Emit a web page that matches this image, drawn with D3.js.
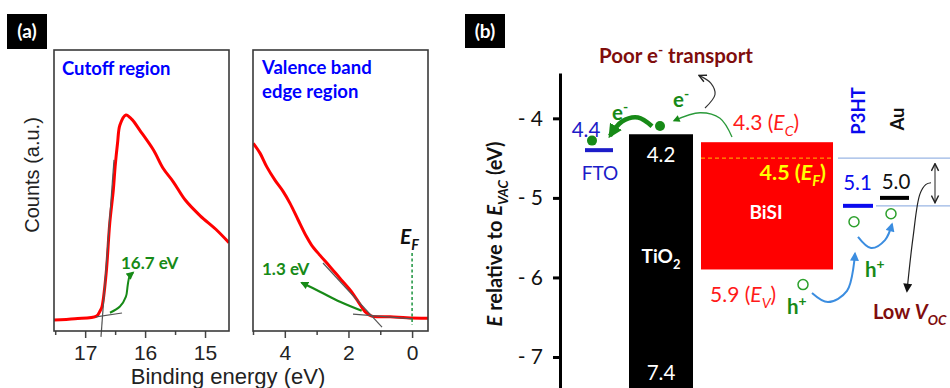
<!DOCTYPE html>
<html><head><meta charset="utf-8">
<script src="https://cdn.jsdelivr.net/npm/d3@7"></script>
<style>body{margin:0;background:#fff}svg{display:block}</style>
</head><body>
<svg id="c" width="950" height="388"></svg>
<script>
// ================= DATA =================
// Panel (a), left: secondary-electron cutoff spectrum (binding energy eV, counts a.u.)
const cutoffEnergy = [17.52, 17.17, 16.81, 16.75, 16.72, 16.65, 16.59, 16.53, 16.50, 16.46, 16.42, 16.32, 16.22, 16.09, 15.86, 15.70, 15.53, 15.33, 15.08, 14.82, 14.60];
const cutoffCounts = [0.039, 0.044, 0.053, 0.072, 0.086, 0.205, 0.383, 0.502, 0.585, 0.668, 0.733, 0.769, 0.753, 0.715, 0.644, 0.579, 0.531, 0.466, 0.410, 0.362, 0.314];
// Panel (a), right: valence band edge spectrum
const vbEnergy = [4.99, 4.78, 4.57, 4.31, 4.05, 3.84, 3.58, 3.32, 3.16, 2.90, 2.58, 2.27, 1.95, 1.69, 1.48, 1.27, 0.69, 0.17, -0.51];
const vbCounts = [0.668, 0.633, 0.585, 0.537, 0.496, 0.455, 0.395, 0.336, 0.306, 0.270, 0.229, 0.188, 0.146, 0.104, 0.069, 0.053, 0.051, 0.047, 0.045];
// tangent (extrapolation) lines [eV, counts]
const cutoffTangents = [[[16.736, -0.021], [16.519, 0.609]], [[16.82, 0.050], [16.385, 0.064]]];
const vbTangents = [[[2.80, 0.242], [0.946, 0.014]], [[1.857, 0.060], [-0.03, 0.043]]];
const cutoffValue = "16.7 eV";
const vbmValue = "1.3 eV";
const fermiLevelA = 0;
const ticksLeftMajor = [17, 16, 15];
const ticksLeftMinor = [17.5, 16.5, 15.5];
const ticksRightMajor = [4, 2, 0];
const ticksRightMinor = [5, 3, 1];

// Panel (b): energy levels (eV below vacuum)
const bandNames = ["TiO2", "BiSI"];
const bandCB = [4.2, 4.3];
const bandVB = [7.4, 5.9];
const bisiFermi = 4.5;
const levelNames = ["FTO", "P3HT", "Au"];
const levelE = [4.4, 5.1, 5.0];
const ticksB = [4, 5, 6, 7];

// ================= DRAW =================
const svg = d3.select('#c');
const FA = "'Liberation Sans', Arial, sans-serif";
const FC = "Lato, 'Open Sans', sans-serif";
const GREEN = "#178a17", BLUE = "#0000ff", DRED = "#7f0d0d";

const defs = svg.append('defs');
function marker(id, color, len, wid, open) {
  const m = defs.append('marker').attr('id', id).attr('viewBox', '0 0 10 10')
    .attr('refX', open ? 9 : 8).attr('refY', 5).attr('markerWidth', len).attr('markerHeight', wid)
    .attr('markerUnits', 'userSpaceOnUse').attr('orient', 'auto-start-reverse');
  if (open) m.append('path').attr('d', 'M1,1L9,5L1,9').attr('fill', 'none').attr('stroke', color).attr('stroke-width', 1.6);
  else m.append('path').attr('d', 'M0,0L10,5L0,10Z').attr('fill', color);
}
marker('gThick', GREEN, 14, 15, false);
marker('gThin', GREEN, 8, 7, false);
marker('gA', GREEN, 9, 8, false);
marker('kOpen', '#222', 9, 9, true);
marker('kFill', '#111', 11, 9, false);
marker('bFill', '#3b8de0', 10, 9, false);

function rich(g, x, y, parts, size, attrs) {
  const t = g.append('text').attr('x', x).attr('y', y).attr('font-size', size);
  Object.entries(attrs || {}).forEach(([k, v]) => t.attr(k, v));
  let cur = 0;
  parts.forEach(p => {
    const off = p.sub ? size * 0.3 : p.sup ? -size * 0.4 : 0;
    const ts = t.append('tspan').attr('dy', off - cur).text(p.t);
    cur = off;
    if (p.sub || p.sup) ts.attr('font-size', size * 0.68);
    if (p.i) ts.attr('font-style', 'italic');
    if (p.b) ts.attr('font-weight', 'bold');
  });
  return t;
}
function panelLabel(x, y, w, h, s) {
  svg.append('rect').attr('x', x).attr('y', y).attr('width', w).attr('height', h).attr('fill', '#000');
  svg.append('text').attr('x', x + w / 2).attr('y', y + h / 2 + 6.5).attr('text-anchor', 'middle')
    .attr('font-family', FC).attr('font-weight', 'bold').attr('font-size', 19).attr('fill', '#fff').text(s);
}

// ---------- Panel (a) ----------
panelLabel(7, 14, 40, 35, '(a)');
const yA = d3.scaleLinear().domain([0, 1]).range([331, 50]);
const xL = d3.scaleLinear().domain([17.52, 14.6]).range([54, 229]);
const xR = d3.scaleLinear().domain([5.0, -0.5]).range([253, 428]);

function subplot(x, id, data, tangents, majors, minors) {
  const [r0, r1] = x.range();
  defs.append('clipPath').attr('id', id).append('rect').attr('x', r0).attr('y', 50).attr('width', r1 - r0).attr('height', 281);
  const g = svg.append('g');
  const gM = g.append('g').attr('transform', 'translate(0,331)')
    .call(d3.axisBottom(x).tickValues(majors).tickSize(7).tickPadding(7).tickFormat(d3.format('d')));
  const gm = g.append('g').attr('transform', 'translate(0,331)')
    .call(d3.axisBottom(x).tickValues(minors).tickSize(4).tickFormat(''));
  [gM, gm].forEach(a => {
    a.select('.domain').remove();
    a.selectAll('line').attr('stroke', '#444').attr('stroke-width', 1.5);
    a.selectAll('text').attr('font-family', FA).attr('font-size', 21).attr('fill', '#222');
  });
  const cg = g.append('g').attr('clip-path', `url(#${id})`);
  const ln = d3.line().x(d => x(d[0])).y(d => yA(d[1]));
  tangents.forEach(t => g.append('path').attr('d', ln(t)).attr('stroke', '#555').attr('stroke-width', 1.2).attr('fill', 'none'));
  cg.append('path').datum(data)
    .attr('d', d3.line().x(d => x(d[0])).y(d => yA(d[1])).curve(d3.curveCatmullRom.alpha(0.5)))
    .attr('fill', 'none').attr('stroke', '#ff0000').attr('stroke-width', 3).attr('stroke-linejoin', 'round');
  g.append('rect').attr('x', r0).attr('y', 50).attr('width', r1 - r0).attr('height', 281)
    .attr('fill', 'none').attr('stroke', '#3a3a3a').attr('stroke-width', 1.6);
  return g;
}
subplot(xL, 'clipL', cutoffEnergy.map((e, i) => [e, cutoffCounts[i]]), cutoffTangents, ticksLeftMajor, ticksLeftMinor);
subplot(xR, 'clipR', vbEnergy.map((e, i) => [e, vbCounts[i]]), vbTangents, ticksRightMajor, ticksRightMinor);

// Fermi level marker (right subplot)
svg.append('line').attr('x1', xR(fermiLevelA)).attr('x2', xR(fermiLevelA)).attr('y1', yA(0.278)).attr('y2', yA(0.021))
  .attr('stroke', '#2a9a4a').attr('stroke-width', 1.6).attr('stroke-dasharray', '3,2.5');
rich(svg, xR(0.38), 244, [{ t: 'E', b: 1, i: 1 }, { t: 'F', sub: 1, b: 1, i: 1 }], 21, { 'font-family': FC, fill: '#111' });

// green annotation arrows
const lnL = d3.line().x(d => xL(d[0])).y(d => yA(d[1])).curve(d3.curveCatmullRom.alpha(0.5));
const lnR = d3.line().x(d => xR(d[0])).y(d => yA(d[1])).curve(d3.curveCatmullRom.alpha(0.5));
svg.append('path').attr('d', lnL([[16.586, 0.065], [16.42, 0.087], [16.32, 0.122], [16.29, 0.163], [16.26, 0.194], [16.2, 0.208]]))
  .attr('fill', 'none').attr('stroke', GREEN).attr('stroke-width', 2).attr('marker-end', 'url(#gA)');
svg.append('path').attr('d', lnR([[1.584, 0.072], [2.266, 0.104], [2.895, 0.140], [3.47, 0.172]]))
  .attr('fill', 'none').attr('stroke', GREEN).attr('stroke-width', 2.2).attr('marker-end', 'url(#gA)');
svg.append('text').attr('x', 121).attr('y', 269).attr('font-family', FC).attr('font-weight', 'bold').attr('font-size', 17).attr('fill', GREEN).text(cutoffValue);
svg.append('text').attr('x', 262).attr('y', 275).attr('font-family', FC).attr('font-weight', 'bold').attr('font-size', 17).attr('fill', GREEN).text(vbmValue);

// titles
const titleSize = 18.5;
svg.append('text').attr('x', 62).attr('y', 75).attr('font-family', FC).attr('font-weight', 'bold').attr('font-size', titleSize).attr('fill', BLUE).text('Cutoff region');
svg.append('text').attr('x', 262).attr('y', 74).attr('font-family', FC).attr('font-weight', 'bold').attr('font-size', titleSize).attr('fill', BLUE).text('Valence band');
svg.append('text').attr('x', 262).attr('y', 98).attr('font-family', FC).attr('font-weight', 'bold').attr('font-size', titleSize).attr('fill', BLUE).text('edge region');

// axis titles
svg.append('text').attr('transform', 'translate(39,175) rotate(-90)').attr('text-anchor', 'middle')
  .attr('font-family', FA).attr('font-size', 20).attr('fill', '#222').text('Counts (a.u.)');
svg.append('text').attr('x', 228).attr('y', 384).attr('text-anchor', 'middle')
  .attr('font-family', FA).attr('font-size', 22).attr('fill', '#222').text('Binding energy (eV)');

// ---------- Panel (b) ----------
panelLabel(465, 14, 40, 34, '(b)');
const yB = d3.scaleLinear().domain([3.43, 7.39]).range([73, 388]);
const xB = d3.scaleLinear().domain([0, 390]).range([560, 950]);

const gAx = svg.append('g').attr('transform', 'translate(560,0)')
  .call(d3.axisLeft(yB).tickValues(ticksB).tickSize(7).tickSizeOuter(0).tickPadding(10).tickFormat(d => '- ' + d));
gAx.select('.domain').attr('stroke', '#000').attr('stroke-width', 3);
gAx.selectAll('.tick line').attr('stroke', '#000').attr('stroke-width', 3);
gAx.selectAll('text').attr('font-family', FC).attr('font-size', 21).attr('fill', '#111');

rich(svg.append('g').attr('transform', 'translate(502,234) rotate(-90)'), 0, 0,
  [{ t: 'E', i: 1 }, { t: ' relative to ' }, { t: 'E', i: 1 }, { t: 'VAC', sub: 1, i: 1 }, { t: ' (eV)' }], 20,
  { 'font-family': FC, 'font-weight': 'bold', 'text-anchor': 'middle', fill: '#111' });

// band rectangles
const bandX = { TiO2: [69, 133], BiSI: [141, 273] };
const bandFill = { TiO2: '#000000', BiSI: '#ff0000' };
bandNames.forEach((n, i) => {
  svg.append('rect').attr('x', xB(bandX[n][0])).attr('width', xB(bandX[n][1]) - xB(bandX[n][0]))
    .attr('y', yB(bandCB[i])).attr('height', yB(bandVB[i]) - yB(bandCB[i])).attr('fill', bandFill[n]);
});
svg.append('line').attr('x1', xB(141)).attr('x2', xB(273)).attr('y1', yB(bisiFermi)).attr('y2', yB(bisiFermi))
  .attr('stroke', '#ffc000').attr('stroke-width', 1).attr('stroke-dasharray', '4,3');
svg.append('line').attr('x1', xB(278)).attr('x2', xB(390)).attr('y1', yB(bisiFermi)).attr('y2', yB(bisiFermi)).attr('stroke', '#9ab6e4').attr('stroke-width', 1.2);
svg.append('line').attr('x1', xB(316)).attr('x2', xB(390)).attr('y1', yB(levelE[1])).attr('y2', yB(levelE[1])).attr('stroke', '#9ab6e4').attr('stroke-width', 1.2);
svg.append('line').attr('x1', xB(375)).attr('x2', xB(375)).attr('y1', yB(4.57)).attr('y2', yB(5.06))
  .attr('stroke', '#333').attr('stroke-width', 1.1).attr('marker-start', 'url(#kOpen)').attr('marker-end', 'url(#kOpen)');

const levelX = { FTO: [25, 53], P3HT: [283, 313], Au: [320, 349] };
const levelCol = { FTO: '#1c1cc8', P3HT: '#0a0aee', Au: '#000' };
levelNames.forEach((n, i) => {
  svg.append('line').attr('x1', xB(levelX[n][0])).attr('x2', xB(levelX[n][1])).attr('y1', yB(levelE[i])).attr('y2', yB(levelE[i]))
    .attr('stroke', levelCol[n]).attr('stroke-width', 4);
});

function txt(x, y, s, size, color, extra) {
  const t = svg.append('text').attr('x', x).attr('y', y).attr('font-family', FC).attr('font-size', size).attr('fill', color).text(s);
  Object.entries(extra || {}).forEach(([k, v]) => t.attr(k, v));
  return t;
}
const NS = 20.5;
txt(xB(26), 137, levelE[0].toFixed(1), NS, '#1c1cc8', { 'text-anchor': 'middle' });
txt(xB(40), 180, 'FTO', 19, '#1c1cc8', { 'text-anchor': 'middle' });
txt(xB(297.5), 190, levelE[1].toFixed(1), NS, '#0a0aee', { 'text-anchor': 'middle' });
txt(xB(336), 189, levelE[2].toFixed(1), NS, '#111', { 'text-anchor': 'middle' });
txt(xB(101), 162, bandCB[0].toFixed(1), NS, '#fff', { 'text-anchor': 'middle' });
txt(xB(101), 380, bandVB[0].toFixed(1), NS, '#fff', { 'text-anchor': 'middle' });
rich(svg, xB(101), 263, [{ t: 'TiO' }, { t: '2', sub: 1 }], 19, { 'font-family': FC, 'font-weight': 'bold', fill: '#fff', 'text-anchor': 'middle' });
txt(xB(206), 219, 'BiSI', 19, '#fff', { 'text-anchor': 'middle', 'font-weight': 'bold' });
rich(svg, xB(266), 180, [{ t: bisiFermi.toFixed(1) + ' (' }, { t: 'E', i: 1 }, { t: 'F', sub: 1, i: 1 }, { t: ')' }], 21.5,
  { 'font-family': FC, 'font-weight': 'bold', fill: '#ffff00', 'text-anchor': 'end' });
rich(svg, xB(173), 130, [{ t: bandCB[1].toFixed(1) + ' (' }, { t: 'E', i: 1 }, { t: 'C', sub: 1, i: 1 }, { t: ')' }], 21,
  { 'font-family': FC, fill: '#ff1a1a' });
rich(svg, xB(150), 302, [{ t: bandVB[1].toFixed(1) + ' (' }, { t: 'E', i: 1 }, { t: 'V', sub: 1, i: 1 }, { t: ')' }], 21,
  { 'font-family': FC, fill: '#ff1a1a' });
rich(svg, xB(39), 63, [{ t: 'Poor e' }, { t: '-', sup: 1 }, { t: ' transport' }], 20.5,
  { 'font-family': FC, 'font-weight': 'bold', fill: DRED });
rich(svg, xB(313), 319, [{ t: 'Low ' }, { t: 'V', i: 1 }, { t: 'OC', sub: 1, i: 1 }], 20,
  { 'font-family': FC, 'font-weight': 'bold', fill: DRED });
[[52, 120], [113, 107]].forEach(p => rich(svg, xB(p[0]), p[1], [{ t: 'e' }, { t: '-', sup: 1 }], 20.5,
  { 'font-family': FC, 'font-weight': 'bold', fill: GREEN }));
[[227, 314], [305, 277]].forEach(p => rich(svg, xB(p[0]), p[1], [{ t: 'h' }, { t: '+', sup: 1 }], 20.5,
  { 'font-family': FC, 'font-weight': 'bold', fill: GREEN }));
svg.append('text').attr('transform', `translate(${xB(298)},111) rotate(-90)`).attr('text-anchor', 'middle').attr('dy', '0.36em')
  .attr('font-family', FC).attr('font-weight', 'bold').attr('font-size', 18.5).attr('fill', '#0a0aee').text('P3HT');
svg.append('text').attr('transform', `translate(${xB(337)},119) rotate(-90)`).attr('text-anchor', 'middle').attr('dy', '0.36em')
  .attr('font-family', FC).attr('font-weight', 'bold').attr('font-size', 18.5).attr('fill', '#111').text('Au');

// carriers
const lnB = d3.line().x(d => xB(d[0])).y(d => yB(d[1])).curve(d3.curveCatmullRom.alpha(0.5));
[[32, 4.28], [100, 4.097]].forEach(p => svg.append('circle').attr('cx', xB(p[0])).attr('cy', yB(p[1])).attr('r', 5).attr('fill', GREEN));
[[294, 5.30], [331, 5.20], [243, 6.09]].forEach(p => svg.append('circle').attr('cx', xB(p[0])).attr('cy', yB(p[1])).attr('r', 5)
  .attr('fill', 'none').attr('stroke', '#2ca02c').attr('stroke-width', 1.5));

// arrows
svg.append('path').attr('d', lnB([[92, 4.10], [78, 3.99], [62, 4.04], [50, 4.22]]))
  .attr('fill', 'none').attr('stroke', GREEN).attr('stroke-width', 4.5).attr('marker-end', 'url(#gThick)');
svg.append('path').attr('d', lnB([[172, 4.235], [160, 4.0], [140, 3.93], [114, 4.03]]))
  .attr('fill', 'none').attr('stroke', '#2a9a3a').attr('stroke-width', 1.3).attr('marker-end', 'url(#gThin)');
svg.append('path').attr('d', lnB([[145, 3.87], [155, 3.70], [151, 3.56], [139, 3.46]]))
  .attr('fill', 'none').attr('stroke', '#333').attr('stroke-width', 1.2).attr('marker-end', 'url(#kOpen)');
svg.append('path').attr('d', lnB([[371, 4.81], [366, 4.83], [360, 4.95], [353, 5.5], [347, 6.17]]))
  .attr('fill', 'none').attr('stroke', '#222').attr('stroke-width', 1.2).attr('marker-end', 'url(#kFill)');
svg.append('path').attr('d', lnB([[252, 6.195], [268, 6.31], [287, 6.17], [295, 5.70]]))
  .attr('fill', 'none').attr('stroke', '#3b8de0').attr('stroke-width', 2).attr('marker-end', 'url(#bFill)');
svg.append('path').attr('d', lnB([[298, 5.49], [311, 5.63], [325, 5.53], [332, 5.33]]))
  .attr('fill', 'none').attr('stroke', '#3b8de0').attr('stroke-width', 2).attr('marker-end', 'url(#bFill)');
</script>
</body></html>
